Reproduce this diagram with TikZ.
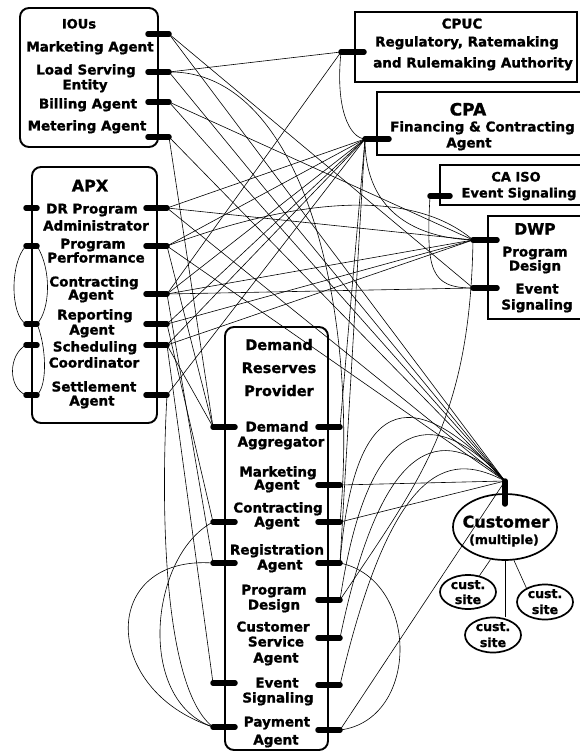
\documentclass[tikz,border=0pt]{standalone}
\usepackage{fontspec}
\setmainfont{DejaVu Sans}[BoldFeatures={FakeBold=1.3}]
\usetikzlibrary{shapes.geometric}
\begin{document}
\begin{tikzpicture}[x=1pt,y=-1pt,
  box/.style={draw, line width=1.9pt},
  portbar/.style={line width=5.5pt, line cap=round},
  wire/.style={line width=0.6pt},
  lbl/.style={font=\bfseries\fontsize{13.5}{15}\selectfont, inner sep=0pt, text height=10pt, text depth=1pt},
  lblsm/.style={font=\bfseries\fontsize{12.5}{14}\selectfont, inner sep=0pt, text height=9pt, text depth=1pt},
  ttl/.style={font=\bfseries\fontsize{14.5}{16}\selectfont, inner sep=0pt, text height=11pt, text depth=1pt},
  big/.style={font=\bfseries\fontsize{16.5}{18}\selectfont, inner sep=0pt, text height=12pt, text depth=1pt},
  ell/.style={draw, ellipse, line width=1.7pt, inner sep=0pt}]
\useasboundingbox (0,0) rectangle (579,751);

% ---------------- boxes ----------------
\draw[box, rounded corners=9pt] (20,8) rectangle (158,147);
\draw[box] (355,12) rectangle (577,82);
\draw[box] (377,92) rectangle (592,155);
\draw[box] (440,165) rectangle (592,205);
\draw[box] (488,216) rectangle (592,319);
\draw[box, rounded corners=9pt] (32,167) rectangle (157,423);
\draw[box, rounded corners=9pt] (225,327) rectangle (328,750);

\node[ell, minimum width=104, minimum height=66] (cust) at (505,527) {};
\node[ell, minimum width=56, minimum height=34] (site1) at (468,592) {};
\node[ell, minimum width=56, minimum height=35] (site2) at (545,602) {};
\node[ell, minimum width=56, minimum height=35] (site3) at (493,635) {};

% ---------------- port coordinates ----------------
\coordinate (iM) at (169,34);  \coordinate (iM0) at (148,34);
\coordinate (iL) at (169,72);  \coordinate (iL0) at (148,72);
\coordinate (iB) at (169,102); \coordinate (iB0) at (148,102);
\coordinate (iT) at (169,137); \coordinate (iT0) at (148,137);
\coordinate (U) at (341,52);   \coordinate (U0) at (364,52);
\coordinate (P) at (365,139);  \coordinate (P0) at (389,139);
\coordinate (I) at (430,196);  \coordinate (I0) at (450,196);
\coordinate (D) at (473,240);  \coordinate (D0) at (497,240);
\coordinate (E) at (473,288);  \coordinate (E0) at (497,288);
\coordinate (aD) at (167,208); \coordinate (aD0) at (146,208);
\coordinate (aP) at (167,246); \coordinate (aP0) at (146,246);
\coordinate (aC) at (167,294); \coordinate (aC0) at (146,294);
\coordinate (aR) at (167,324); \coordinate (aR0) at (146,324);
\coordinate (aS) at (167,345); \coordinate (aS0) at (146,345);
\coordinate (aT) at (167,395); \coordinate (aT0) at (146,395);
\coordinate (lD) at (26,208);  \coordinate (lDb) at (37,208);
\coordinate (lP) at (26,246);  \coordinate (lPb) at (37,246);
\coordinate (lR) at (26,324);  \coordinate (lRb) at (37,324);
\coordinate (lS) at (26,345);  \coordinate (lSb) at (37,345);
\coordinate (lT) at (26,395);  \coordinate (lTb) at (37,395);
\coordinate (dA) at (213,427); \coordinate (dA0) at (235,427);
\coordinate (dC) at (213,522); \coordinate (dC0) at (235,522);
\coordinate (dR) at (213,563); \coordinate (dR0) at (235,563);
\coordinate (dE) at (213,683); \coordinate (dE0) at (235,683);
\coordinate (dP) at (213,727); \coordinate (dP0) at (235,727);
\coordinate (rA) at (340,427); \coordinate (rA0) at (318,427);
\coordinate (rM) at (340,485); \coordinate (rM0) at (318,485);
\coordinate (rC) at (340,522); \coordinate (rC0) at (318,522);
\coordinate (rR) at (340,563); \coordinate (rR0) at (318,563);
\coordinate (rG) at (340,600); \coordinate (rG0) at (318,600);
\coordinate (rS) at (340,638); \coordinate (rS0) at (318,638);
\coordinate (rE) at (340,685); \coordinate (rE0) at (318,685);
\coordinate (rP) at (340,730); \coordinate (rP0) at (318,730);
\coordinate (C) at (505,481);  \coordinate (C0) at (505,504);

% ---------------- connectors ----------------
\begin{scope}[wire]
% IOUs
\draw (iM) -- (C);  \draw (iM) -- (E);
\draw (iL) -- (U);  \draw (iL) -- (C);
\draw (iL) .. controls (300,70) and (360,300) .. (rC);
\draw (iB) -- (C);  \draw (iB) -- (D);
\draw (iT) -- (C);  \draw (iT) -- (dA);
% APX right side
\draw (aD) -- (P); \draw (aD) -- (C); \draw (aD) -- (D);
\draw (aP) -- (P); \draw (aP) -- (C); \draw (aP) -- (dA);
\draw (aP) .. controls (320,190) and (420,195) .. (D);
\draw (aC) -- (U); \draw (aC) -- (P); \draw (aC) -- (D); \draw (aC) -- (E); \draw (aC) -- (dR);
\draw (aR) -- (P); \draw (aR) -- (D); \draw (aR) -- (dC);
\draw (aS) -- (P); \draw (aS) -- (D); \draw (aS) -- (dA); \draw (aS) -- (dE);
\draw (aT) -- (P);
\draw (aT) .. controls (160,520) and (165,690) .. (dP);
% APX left loops
\draw (lP) .. controls (10,262) and (10,315) .. (lR);
\draw (lPb) .. controls (52,270) and (50,310) .. (lRb);
\draw (lS) .. controls (8,355) and (8,388) .. (lT);
\draw (lRb) .. controls (46,345) and (48,385) .. (lTb);
% hubs
\draw (U) .. controls (335,110) and (350,138) .. (P);
\draw (P) .. controls (365,215) and (420,238) .. (D);
\draw (P) -- (rA); \draw (P) -- (rR);
\draw (I) .. controls (426,270) and (430,288) .. (E);
\draw (D) .. controls (470,420) and (420,480) .. (rG);
% DRP left loops
\draw (dC) .. controls (150,555) and (135,700) .. (dP);
\draw (dR) .. controls (100,555) and (100,690) .. (dP);
% DRP right side to customer
\draw (rM) -- (C); \draw (rC) -- (C); \draw (rP) -- (C);
\draw (rR) .. controls (355,380) and (420,390) .. (C);
\draw (rG) .. controls (370,400) and (440,410) .. (C);
\draw (rS) .. controls (385,420) and (450,430) .. (C);
\draw (rE) .. controls (395,450) and (455,455) .. (C);
\draw (rR) .. controls (420,580) and (420,720) .. (rP);
% customer sites
\draw (cust.-114) -- (site1.55);
\draw (cust.south) -- (cust.south |- site3.north);
\draw (cust.-75) -- (site2.143);
\end{scope}

% ---------------- port bars ----------------
\foreach \a/\b in {iM/iM0,iL/iL0,iB/iB0,iT/iT0,U/U0,P/P0,I/I0,D/D0,E/E0,
  aD/aD0,aP/aP0,aC/aC0,aR/aR0,aS/aS0,aT/aT0,
  lD/lDb,lP/lPb,lR/lRb,lS/lSb,lT/lTb,
  dA/dA0,dC/dC0,dR/dR0,dE/dE0,dP/dP0,
  rA/rA0,rM/rM0,rC/rC0,rR/rR0,rG/rG0,rS/rS0,rE/rE0,rP/rP0,C/C0}
  \draw[portbar] (\a) -- (\b);

% ---------------- texts ----------------
\node[lbl, font=\bfseries\fontsize{13}{14}\selectfont] (t1) at (79,24) {IOUs};
\node[lbl] (t2) at (90,47) {Marketing Agent};
\node[lbl] (t3) at (86,70) {Load Serving};
\node[lbl] (t4) at (85,85) {Entity};
\node[lbl] (t5) at (88,104) {Billing Agent};
\node[lbl] (t6) at (87,126) {Metering Agent};

\node[lbl] (t7) at (462,24) {CPUC};
\node[lbl] (t8) at (467,42) {Regulatory, Ratemaking};
\node[lbl] (t9) at (473,63) {and Rulemaking Authority};

\node[big, font=\bfseries\fontsize{17}{18}\selectfont] (t10) at (468,110) {CPA};
\node[lbl, anchor=west] (t11) at (390,127) {Financing \& Contracting};
\node[lbl] (t12) at (469,143) {Agent};

\node[lbl, font=\bfseries\fontsize{13}{15}\selectfont] (t13) at (516,177) {CA ISO};
\node[lbl, font=\bfseries\fontsize{13}{15}\selectfont] (t14) at (519,193) {Event Signaling};

\node[big, font=\bfseries\fontsize{15.5}{18}\selectfont] (t15) at (535,229) {DWP};
\node[lbl] (t16) at (535,252) {Program};
\node[lbl] (t17) at (535,266) {Design};
\node[lbl] (t18) at (537,289) {Event};
\node[lbl] (t19) at (537,305) {Signaling};

\node[big, font=\bfseries\fontsize{16}{18}\selectfont] (t20) at (90,186) {APX};
\node[lbl] (t21) at (92,209) {DR Program};
\node[lbl] (t22) at (96,226) {Administrator};
\node[lbl] (t23) at (93,244) {Program};
\node[lbl] (t24) at (96,258) {Performance};
\node[lbl] (t25) at (94,282) {Contracting};
\node[lbl] (t26) at (91,295) {Agent};
\node[lbl] (t27) at (95,315) {Reporting};
\node[lbl] (t28) at (92,330) {Agent};
\node[lbl] (t29) at (95,347) {Scheduling};
\node[lbl] (t30) at (94,363) {Coordinator};
\node[lbl] (t31) at (94,387) {Settlement};
\node[lbl] (t32) at (92,401) {Agent};

\node[ttl] (t33) at (279,345) {Demand};
\node[ttl] (t34) at (279,368) {Reserves};
\node[ttl] (t35) at (279,391) {Provider};
\node[lbl] (t36) at (277,427) {Demand};
\node[lbl] (t37) at (281,442) {Aggregator};
\node[lbl] (t38) at (278,472) {Marketing};
\node[lbl] (t39) at (277,485) {Agent};
\node[lbl] (t40) at (278,508) {Contracting};
\node[lbl] (t41) at (277,522) {Agent};
\node[lbl] (t42) at (277,550) {Registration};
\node[lbl] (t43) at (280,565) {Agent};
\node[lbl] (t44) at (274,590) {Program};
\node[lbl] (t45) at (274,605) {Design};
\node[lbl] (t46) at (273,627) {Customer};
\node[lbl] (t47) at (276,642) {Service};
\node[lbl] (t48) at (276,658) {Agent};
\node[lbl] (t49) at (277,683) {Event};
\node[lbl] (t50) at (278,698) {Signaling};
\node[lbl] (t51) at (277,722) {Payment};
\node[lbl] (t52) at (276,740) {Agent};

\node[big, font=\bfseries\fontsize{16}{18}\selectfont] (t53) at (506,522) {Customer};
\node[lblsm] (t54) at (504,540) {(multiple)};
\node[lblsm] (t55) at (468,585) {cust.};
\node[lblsm] (t56) at (468,600) {site};
\node[lblsm] (t57) at (545,594) {cust.};
\node[lblsm] (t58) at (545,610) {site};
\node[lblsm] (t59) at (493,627) {cust.};
\node[lblsm] (t60) at (493,643) {site};
\end{tikzpicture}
\end{document}
